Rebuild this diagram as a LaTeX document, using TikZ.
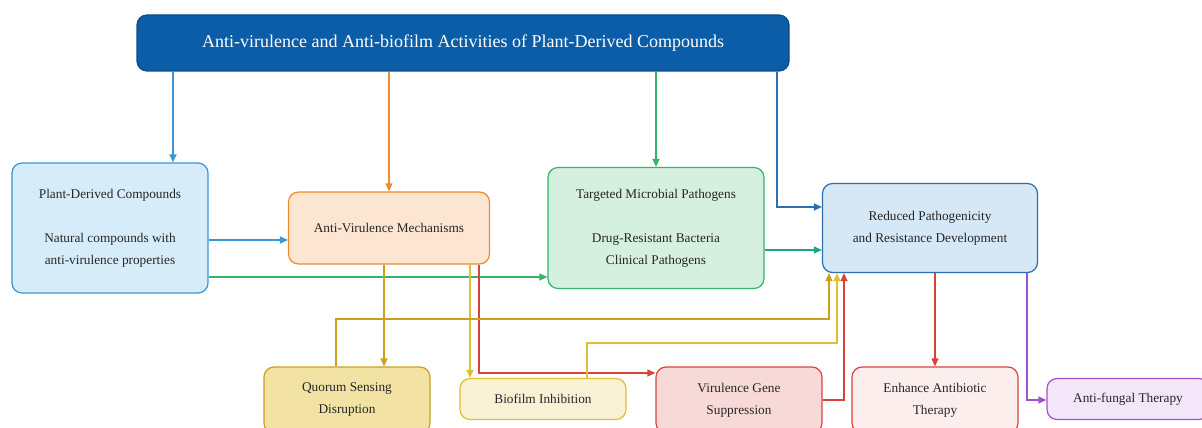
\documentclass[tikz,border=0pt]{standalone}
\usepackage{fontspec}
\setmainfont{Liberation Serif}
\usetikzlibrary{arrows.meta}
\definecolor{titlefill}{HTML}{0B5DA8}
\definecolor{titleline}{HTML}{094C8A}
\definecolor{cblue}{HTML}{3A95D5}
\definecolor{corange}{HTML}{F08A2C}
\definecolor{cgreen}{HTML}{33B466}
\definecolor{cteal}{HTML}{1FA38A}
\definecolor{cnavy}{HTML}{2A6FB0}
\definecolor{cgold}{HTML}{C9A020}
\definecolor{cyellow}{HTML}{E2BE35}
\definecolor{cred}{HTML}{D9443A}
\definecolor{cpurple}{HTML}{A050D0}
\definecolor{fnavy}{HTML}{D6E7F5}
\definecolor{fblue}{HTML}{D6ECF8}
\begin{document}
\begin{tikzpicture}[x=1pt,y=-1pt,
  font=\fontsize{13.3}{22}\selectfont,
  box/.style={draw, rounded corners=10pt, line width=1.2pt, align=center,
    inner sep=0pt, text=black!85},
  link/.style={-{Triangle[length=8pt,width=7pt]}, line width=1.2pt}]
\useasboundingbox (0,0) rectangle (1202,428);
% boxes
\node[box, fill=titlefill, draw=titleline, text=white,
  minimum width=652pt, minimum height=56pt,
  font=\fontsize{18}{22}\selectfont] (title) at (463,43)
  {Anti-virulence and Anti-biofilm Activities of Plant-Derived Compounds};
\node[box, fill=fblue, draw=cblue, minimum width=196pt, minimum height=130pt]
  (plant) at (110,228)
  {Plant-Derived Compounds\\[22pt]Natural compounds with\\anti-virulence properties};
\node[box, fill=corange!22, draw=corange, minimum width=201pt, minimum height=72pt]
  (antivir) at (389,228) {Anti-Virulence Mechanisms};
\node[box, fill=cgreen!20, draw=cgreen, minimum width=216pt, minimum height=121pt]
  (targeted) at (656,228)
  {Targeted Microbial Pathogens\\[22pt]Drug-Resistant Bacteria\\Clinical Pathogens};
\node[box, fill=fnavy, draw=cnavy, minimum width=215pt, minimum height=89pt]
  (reduced) at (930,228) {Reduced Pathogenicity\\and Resistance Development};
\node[box, fill=cyellow!45, draw=cgold, minimum width=166pt, minimum height=66pt]
  (quorum) at (347,400) {Quorum Sensing\\Disruption};
\node[box, fill=cyellow!22, draw=cyellow, minimum width=166pt, minimum height=41pt]
  (biofilm) at (543,399) {Biofilm Inhibition};
\node[box, fill=cred!20, draw=cred, minimum width=166pt, minimum height=66pt]
  (virulence) at (739,400) {Virulence Gene\\Suppression};
\node[box, fill=cred!9, draw=cred, minimum width=166pt, minimum height=66pt]
  (enhance) at (935,400) {Enhance Antibiotic\\Therapy};
\node[box, fill=cpurple!14, draw=cpurple, minimum width=162pt, minimum height=41pt]
  (antifungal) at (1128,399) {Anti-fungal Therapy};
% connectors
\draw[link, cblue] (title.south -| 173,0) -- (plant.north -| 173,0);
\draw[link, corange] (title.south -| antivir.north) -- (antivir.north);
\draw[link, cgreen] (title.south -| targeted.north) -- (targeted.north);
\draw[link, cnavy] (title.south -| 777,0) |- (reduced.west |- 0,207);
\draw[link, cblue] (plant.east |- 0,240) -- (antivir.west |- 0,240);
\draw[link, cgreen] (plant.east |- 0,277) -- (targeted.west |- 0,277);
\draw[link, cteal] (targeted.east |- 0,250) -- (reduced.west |- 0,250);
\draw[link, cgold] (antivir.south -| 384,0) -- (quorum.north -| 384,0);
\draw[link, cyellow] (antivir.south -| 470,0) -- (biofilm.north -| 470,0);
\draw[link, cred] (antivir.south -| 479,0) |- (virulence.west |- 0,373);
\draw[link, cgold] (quorum.north -| 336,0) -- (336,319) -| (reduced.south -| 829,0);
\draw[link, cyellow] (biofilm.north -| 587,0) -- (587,343) -| (reduced.south -| 837,0);
\draw[link, cred] (virulence.east |- 0,400) -| (reduced.south -| 844,0);
\draw[link, cred] (reduced.south -| 935,0) -- (enhance.north -| 935,0);
\draw[link, cpurple] (reduced.south -| 1027,0) |- (antifungal.west |- 0,400);
\end{tikzpicture}
\end{document}
